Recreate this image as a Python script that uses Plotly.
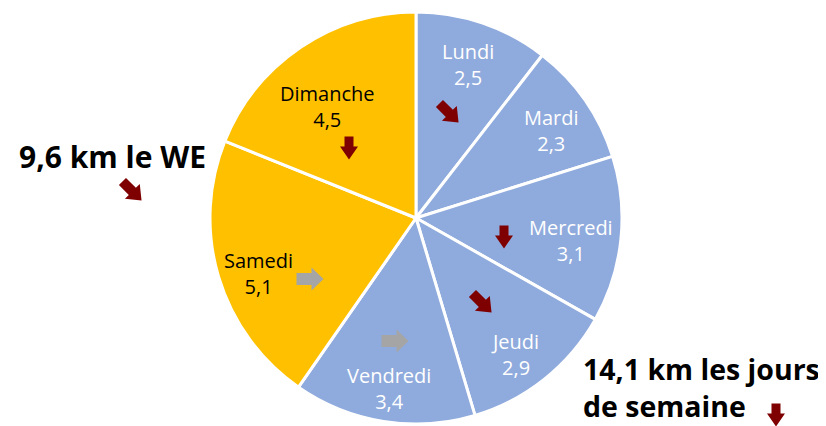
import math
import plotly.graph_objects as go

jours = ["Lundi", "Mardi", "Mercredi", "Jeudi", "Vendredi", "Samedi", "Dimanche"]
km = [2.5, 2.3, 3.1, 2.9, 3.4, 5.1, 4.5]
couleurs = ["#8faadc"] * 5 + ["#ffc000"] * 2
couleurs_texte = ["white"] * 5 + ["black"] * 2
total_we = "9,6 km le WE"
total_semaine = "14,1 km les jours<br>de semaine"

# page body has an 8px margin: figure fills the visible remainder
OFF = 8
W, H = 826 - OFF, 426 - OFF
FONT = "'Open Sans', Lato, sans-serif"
RED = "#7f0000"
GREY = "#a5a5a5"

# label block centres (window pixels) – layout only
label_pos = [(468, 64), (551, 130), (571, 240), (515, 354), (389, 388), (258, 273), (327, 107)]

# arrows: (cx, cy, direction in degrees: 0=right, 90=down, 45=down-right, kind)
arrows = [
    (449, 113, 45, "red"), (504, 237, 90, "red"), (482, 303, 45, "red"),
    (395, 341, 0, "grey"), (310, 279, 0, "grey"), (349, 148, 90, "red"),
    (132, 191, 45, "red"), (776, 415, 90, "red"),
]


def px(x, y):
    return (x - OFF) / W, 1 - (y - OFF) / H


CX, CY, R = 416, 218, 206
x0, _ = px(CX - R, 0)
x1, _ = px(CX + R, 0)
_, y1 = px(0, CY - R)
_, y0 = px(0, CY + R)

fig = go.Figure(go.Pie(
    labels=jours, values=km, sort=False, direction="clockwise", rotation=0,
    marker=dict(colors=couleurs, line=dict(color="white", width=3)),
    textinfo="none", hoverinfo="label+value", showlegend=False,
    domain=dict(x=[x0, x1], y=[y0, y1]),
))

annotations = []
for j, v, c, (x, y) in zip(jours, km, couleurs_texte, label_pos):
    ax, ay = px(x, y)
    annotations.append(dict(x=ax, y=ay, text=f"{j}<br>{str(v).replace('.', ',')}",
                            font=dict(size=20, color=c, family=FONT)))
ax, ay = px(17, 157)
annotations.append(dict(x=ax, y=ay, text="<b>" + total_we + "</b>", xanchor="left",
                        font=dict(size=30, color="black", family=FONT)))
ax, ay = px(581, 387)
annotations.append(dict(x=ax, y=ay, text="<b>" + total_semaine + "</b>", xanchor="left", align="left",
                        font=dict(size=28.5, color="black", family=FONT)))
for a in annotations:
    a.update(xref="paper", yref="paper", showarrow=False, yanchor="middle")
    a.setdefault("xanchor", "center")

shapes = []
for cx, cy, ang, kind in arrows:
    if kind == "grey":
        L, hl, hw, sw = 27, 12, 11.5, 6
    elif ang == 90:
        L, hl, hw, sw = 23, 13, 9, 4.5
    else:
        L, hl, hw, sw = 27, 13, 10.5, 5
    pts = [(-L / 2, -sw), (L / 2 - hl, -sw), (L / 2 - hl, -hw), (L / 2, 0),
           (L / 2 - hl, hw), (L / 2 - hl, sw), (-L / 2, sw)]
    t = math.radians(ang)
    path = ""
    for i, (u, w) in enumerate(pts):
        X = cx + u * math.cos(t) - w * math.sin(t)
        Y = cy + u * math.sin(t) + w * math.cos(t)
        fx, fy = px(X, Y)
        path += ("M" if i == 0 else "L") + f"{fx:.5f},{fy:.5f} "
    path += "Z"
    col = GREY if kind == "grey" else RED
    shapes.append(dict(type="path", path=path, xref="paper", yref="paper",
                       fillcolor=col, line=dict(width=0), layer="above"))

fig.update_layout(
    width=W, height=H, margin=dict(l=0, r=0, t=0, b=0),
    paper_bgcolor="white", plot_bgcolor="white", separators=", ",
    font=dict(family=FONT), annotations=annotations, shapes=shapes,
)
fig.write_html("out.html")
